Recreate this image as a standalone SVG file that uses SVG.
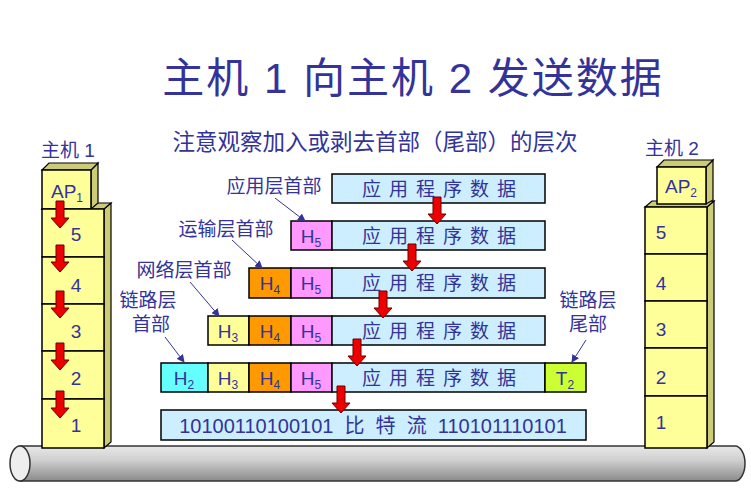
<svg xmlns="http://www.w3.org/2000/svg" width="751" height="497" viewBox="0 0 751 497">
<defs>
<linearGradient id="pipe" x1="0" y1="0" x2="0" y2="1">
<stop offset="0" stop-color="#e8e8e8"/><stop offset="0.4" stop-color="#d0d0d0"/><stop offset="1" stop-color="#8a8a8a"/>
</linearGradient>
<path id="arr" d="M-4,0 H4 V17 H9 L0,27 L-9,17 H-4 Z" fill="#ee0000" stroke="#660000" stroke-width="1"/>
<marker id="m" markerWidth="8" markerHeight="8" refX="7" refY="4" orient="auto" markerUnits="userSpaceOnUse"><path d="M0,0 L8,4 L0,8 Z" fill="#333399"/></marker>
</defs>
<style>
text{font-family:"Liberation Sans","Noto Sans CJK SC",sans-serif;fill:#333399}
.cell{stroke:#000;stroke-width:1.5}
.blk{fill:#ffff99;stroke:#000;stroke-width:1.5}
.side{fill:#cccc77;stroke:#000;stroke-width:1.2}
.lab{font-size:19px}
.cl{font-size:19px}
.row{font-size:19px;letter-spacing:8px}
.ptr{stroke:#333399;stroke-width:1;marker-end:url(#m)}
</style>
<rect width="751" height="497" fill="#fff"/>
<text x="413" y="93" font-size="42" text-anchor="middle" letter-spacing="2">主机 1 向主机 2 发送数据</text>
<text x="375" y="150" font-size="22.5" text-anchor="middle">注意观察加入或剥去首部（尾部）的层次</text>

<g id="pipe-g">
<path d="M20,446 H735 A10,17.5 0 0 1 735,481 H20 Z" fill="url(#pipe)" stroke="#333" stroke-width="1.5"/>
<ellipse cx="20" cy="463.5" rx="10" ry="17.5" fill="#eee" stroke="#333" stroke-width="1.5"/>
</g>

<g id="host1">
<text x="68" y="157" class="lab" text-anchor="middle">主机 1</text>
<path d="M104,209 L111,203 V442 L104,448 Z" class="side"/>
<path d="M42,209 L49,203 H111 L104,209 Z" class="side"/>
<path d="M91,170 L98,163 V203 L91,209 Z" class="side"/>
<path d="M42,170 L49,163 H98 L91,170 Z" class="side"/>
<rect x="42" y="170" width="49" height="39" class="blk"/>
<text x="67" y="198" font-size="19" text-anchor="middle">AP<tspan font-size="12" dy="4">1</tspan></text>
<rect x="42" y="209" width="62" height="48" class="blk"/>
<rect x="42" y="257" width="62" height="47" class="blk"/>
<rect x="42" y="304" width="62" height="47" class="blk"/>
<rect x="42" y="351" width="62" height="48" class="blk"/>
<rect x="42" y="399" width="62" height="49" class="blk"/>
<text x="76" y="241" class="lab" text-anchor="middle">5</text>
<text x="76" y="292" class="lab" text-anchor="middle">4</text>
<text x="76" y="338" class="lab" text-anchor="middle">3</text>
<text x="76" y="385" class="lab" text-anchor="middle">2</text>
<text x="76" y="432" class="lab" text-anchor="middle">1</text>
<use href="#arr" x="60" y="201"/>
<use href="#arr" x="60" y="245"/>
<use href="#arr" x="60" y="291"/>
<use href="#arr" x="60" y="343"/>
<use href="#arr" x="60" y="391"/>
</g>

<g id="host2">
<text x="672" y="155" class="lab" text-anchor="middle">主机 2</text>
<path d="M707,207 L714,201 V442 L707,448 Z" class="side"/>
<path d="M645,207 L652,201 H714 L707,207 Z" class="side"/>
<path d="M706,167 L713,160 V200 L706,204 Z" class="side"/>
<path d="M657,167 L664,160 H713 L706,167 Z" class="side"/>
<rect x="657" y="167" width="49" height="37" class="blk"/>
<text x="681" y="193" font-size="19" text-anchor="middle">AP<tspan font-size="12" dy="4">2</tspan></text>
<rect x="645" y="207" width="62" height="47" class="blk"/>
<rect x="645" y="254" width="62" height="47" class="blk"/>
<rect x="645" y="301" width="62" height="47" class="blk"/>
<rect x="645" y="348" width="62" height="48" class="blk"/>
<rect x="645" y="396" width="62" height="52" class="blk"/>
<text x="661" y="239" class="lab" text-anchor="middle">5</text>
<text x="661" y="290" class="lab" text-anchor="middle">4</text>
<text x="661" y="336" class="lab" text-anchor="middle">3</text>
<text x="661" y="384" class="lab" text-anchor="middle">2</text>
<text x="661" y="429" class="lab" text-anchor="middle">1</text>
</g>

<g id="rows">
<rect x="332" y="174" width="213" height="29" fill="#cceeff" class="cell"/>
<text x="443" y="196" class="row" text-anchor="middle">应用程序数据</text>

<rect x="291" y="221" width="41" height="29" fill="#ff99ff" class="cell"/>
<rect x="332" y="221" width="213" height="29" fill="#cceeff" class="cell"/>
<text x="311" y="243" class="cl" text-anchor="middle">H<tspan font-size="12" dy="4">5</tspan></text>
<text x="443" y="243" class="row" text-anchor="middle">应用程序数据</text>

<rect x="249" y="268" width="42" height="30" fill="#ff9900" class="cell"/>
<rect x="291" y="268" width="41" height="30" fill="#ff99ff" class="cell"/>
<rect x="332" y="268" width="213" height="30" fill="#cceeff" class="cell"/>
<text x="270" y="290" class="cl" text-anchor="middle">H<tspan font-size="12" dy="4">4</tspan></text>
<text x="311" y="290" class="cl" text-anchor="middle">H<tspan font-size="12" dy="4">5</tspan></text>
<text x="443" y="290" class="row" text-anchor="middle">应用程序数据</text>

<rect x="208" y="316" width="41" height="29" fill="#ffff99" class="cell"/>
<rect x="249" y="316" width="42" height="29" fill="#ff9900" class="cell"/>
<rect x="291" y="316" width="41" height="29" fill="#ff99ff" class="cell"/>
<rect x="332" y="316" width="213" height="29" fill="#cceeff" class="cell"/>
<text x="228" y="338" class="cl" text-anchor="middle">H<tspan font-size="12" dy="4">3</tspan></text>
<text x="270" y="338" class="cl" text-anchor="middle">H<tspan font-size="12" dy="4">4</tspan></text>
<text x="311" y="338" class="cl" text-anchor="middle">H<tspan font-size="12" dy="4">5</tspan></text>
<text x="443" y="338" class="row" text-anchor="middle">应用程序数据</text>

<rect x="161" y="363" width="47" height="29" fill="#66ffff" class="cell"/>
<rect x="208" y="363" width="41" height="29" fill="#ffff99" class="cell"/>
<rect x="249" y="363" width="42" height="29" fill="#ff9900" class="cell"/>
<rect x="291" y="363" width="41" height="29" fill="#ff99ff" class="cell"/>
<rect x="332" y="363" width="213" height="29" fill="#cceeff" class="cell"/>
<rect x="545" y="363" width="41" height="29" fill="#ccff33" class="cell"/>
<text x="184" y="385" class="cl" text-anchor="middle">H<tspan font-size="12" dy="4">2</tspan></text>
<text x="228" y="385" class="cl" text-anchor="middle">H<tspan font-size="12" dy="4">3</tspan></text>
<text x="270" y="385" class="cl" text-anchor="middle">H<tspan font-size="12" dy="4">4</tspan></text>
<text x="311" y="385" class="cl" text-anchor="middle">H<tspan font-size="12" dy="4">5</tspan></text>
<text x="443" y="385" class="row" text-anchor="middle">应用程序数据</text>
<text x="565" y="385" class="cl" text-anchor="middle">T<tspan font-size="12" dy="4">2</tspan></text>

<rect x="161" y="410" width="425" height="30" fill="#cceeff" class="cell"/>
<text x="373" y="433" font-size="20" text-anchor="middle" xml:space="preserve">10100110100101  比  特  流  110101110101</text>
</g>

<g id="labels">
<text x="274" y="193" class="lab" text-anchor="middle">应用层首部</text>
<text x="226" y="236" class="lab" text-anchor="middle">运输层首部</text>
<text x="184" y="277" class="lab" text-anchor="middle">网络层首部</text>
<text x="148" y="307" class="lab" text-anchor="middle">链路层</text>
<text x="151" y="331" class="lab" text-anchor="middle">首部</text>
<text x="588" y="307" class="lab" text-anchor="middle">链路层</text>
<text x="588" y="331" class="lab" text-anchor="middle">尾部</text>
</g>

<g id="connectors">
<line x1="275" y1="198" x2="305" y2="221" class="ptr"/>
<line x1="232" y1="240" x2="262" y2="268" class="ptr"/>
<line x1="190" y1="282" x2="219" y2="316" class="ptr"/>
<line x1="165" y1="337" x2="184" y2="362" class="ptr"/>
<line x1="586" y1="340" x2="572" y2="362" class="ptr"/>
<use href="#arr" x="437" y="197"/>
<use href="#arr" x="412" y="244"/>
<use href="#arr" x="383" y="291"/>
<use href="#arr" x="357" y="339"/>
<use href="#arr" x="341" y="386"/>
</g>
</svg>
